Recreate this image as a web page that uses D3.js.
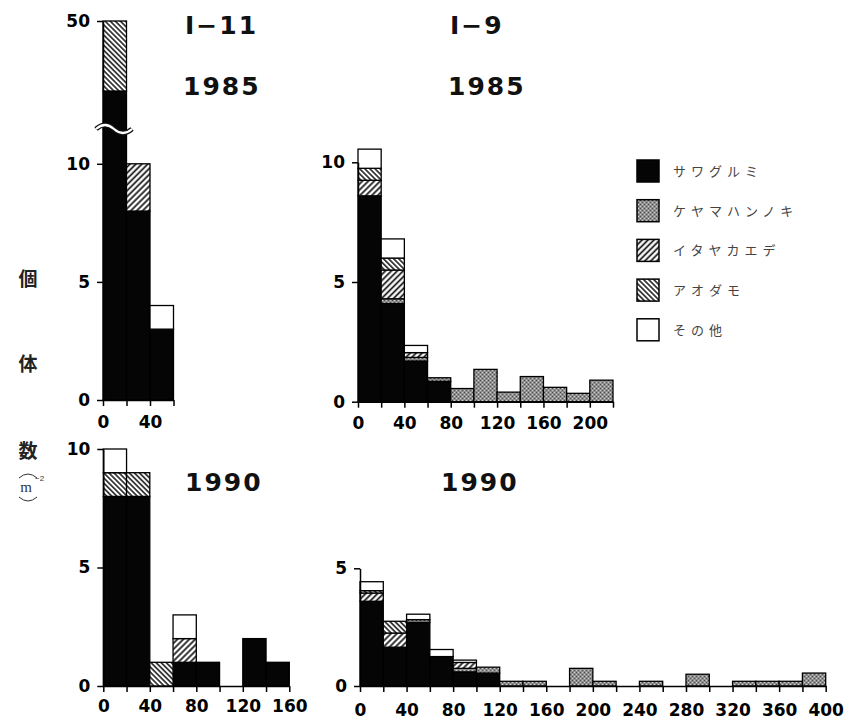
<html>
<script src='https://d3js.org/d3.v7.min.js'></script>
<style>
body {margin: 0; background: white;}
.tick text {font: bold 17px "DejaVu Sans", sans-serif; fill: black;}
.domain, .tick line {stroke: black; stroke-width: 1.5;}
.title {font: bold 25px "DejaVu Sans", sans-serif; letter-spacing: 2px; fill: #111;}
.legend text {font: 400 13px "Noto Sans CJK JP"; fill: #444; letter-spacing: 5px;}
.ylab {font: bold 19px "Noto Sans CJK JP"; fill: #222;}
</style>
<body>
<svg width=845 height=719></svg>
<script>
// species, bottom to top of each stack
var species = ["サワグルミ", "ケヤマハンノキ", "イタヤカエデ", "アオダモ", "その他"];

// I-11 1985, bins of 20 (lower bound)
var bins_i11_1985 = [0, 20, 40];
var i11_1985 = [
  [30, 8, 3],
  [0, 0, 0],
  [0, 2, 0],
  [20, 0, 0],
  [0, 0, 1]
];

// I-9 1985
var bins_i9_1985 = [0, 20, 40, 60, 80, 100, 120, 140, 160, 180, 200];
var i9_1985 = [
  [8.6, 4.1, 1.7, 0.85, 0, 0, 0, 0, 0, 0, 0],
  [0, 0.2, 0.15, 0.15, 0.55, 1.35, 0.4, 1.05, 0.6, 0.35, 0.9],
  [0.65, 1.2, 0.2, 0, 0, 0, 0, 0, 0, 0, 0],
  [0.5, 0.5, 0, 0, 0, 0, 0, 0, 0, 0, 0],
  [0.8, 0.8, 0.3, 0, 0, 0, 0, 0, 0, 0, 0]
];

// I-11 1990
var bins_i11_1990 = [0, 20, 40, 60, 80, 100, 120, 140];
var i11_1990 = [
  [8, 8, 0, 1, 1, 0, 2, 1],
  [0, 0, 0, 0, 0, 0, 0, 0],
  [0, 0, 0, 1, 0, 0, 0, 0],
  [1, 1, 1, 0, 0, 0, 0, 0],
  [1, 0, 0, 1, 0, 0, 0, 0]
];

// I-9 1990
var bins_i9_1990 = [0, 20, 40, 60, 80, 100, 120, 140, 160, 180, 200, 220, 240, 260, 280, 300, 320, 340, 360, 380];
var i9_1990 = [
  [3.6, 1.65, 2.7, 1.25, 0.6, 0.55, 0, 0, 0, 0, 0, 0, 0, 0, 0, 0, 0, 0, 0, 0],
  [0, 0, 0.12, 0, 0.15, 0.25, 0.2, 0.2, 0, 0.75, 0.2, 0, 0.2, 0, 0.5, 0, 0.2, 0.2, 0.2, 0.55],
  [0.35, 0.6, 0, 0, 0.25, 0, 0, 0, 0, 0, 0, 0, 0, 0, 0, 0, 0, 0, 0, 0],
  [0.1, 0.5, 0, 0, 0, 0, 0, 0, 0, 0, 0, 0, 0, 0, 0, 0, 0, 0, 0, 0],
  [0.38, 0, 0.23, 0.3, 0.1, 0, 0, 0, 0, 0, 0, 0, 0, 0, 0, 0, 0, 0, 0, 0]
];

// tick labels
var xLabels_i11_1985 = [0, 40];
var xLabels_i9_1985 = [0, 40, 80, 120, 160, 200];
var xLabels_i11_1990 = [0, 40, 80, 120, 160];
var xLabels_i9_1990 = [0, 40, 80, 120, 160, 200, 240, 280, 320, 360, 400];
var yTicks_i11_1985 = [0, 5, 10, 50];
var yTicks_10 = [0, 5, 10];
var yTicks_5 = [0, 5];

var svg = d3.select("svg");
var defs = svg.append("defs");

// fills
var stip = defs.append("pattern").attr("id", "stip").attr("patternUnits", "userSpaceOnUse")
    .attr("width", 4).attr("height", 4);
stip.append("rect").attr("width", 4).attr("height", 4).attr("fill", "#8e8e8e");
stip.append("rect").attr("x", 0).attr("y", 0).attr("width", 1).attr("height", 1).attr("fill", "#4a4a4a");
stip.append("rect").attr("x", 2).attr("y", 2).attr("width", 1).attr("height", 1).attr("fill", "#555");
stip.append("rect").attr("x", 2).attr("y", 0).attr("width", 1).attr("height", 1).attr("fill", "#d0d0d0");
stip.append("rect").attr("x", 0).attr("y", 2).attr("width", 1).attr("height", 1).attr("fill", "#c8c8c8");

function hatch(id, angle, gap, w) {
  var p = defs.append("pattern").attr("id", id).attr("patternUnits", "userSpaceOnUse")
      .attr("width", gap).attr("height", gap).attr("patternTransform", "rotate(" + angle + ")");
  p.append("rect").attr("width", gap).attr("height", gap).attr("fill", "white");
  p.append("line").attr("x1", gap / 2).attr("x2", gap / 2).attr("y1", 0).attr("y2", gap)
      .attr("stroke", "#111").attr("stroke-width", w);
}
hatch("itaya", 45, 4.2, 1.7);
hatch("aodamo", -45, 3.6, 1.5);

var fills = ["#050505", "url(#stip)", "url(#itaya)", "url(#aodamo)", "white"];

function panel(bins, rows, x, y, xLabels, yTicks, xMax, pad) {
  var g = svg.append("g");
  var table = bins.map(function(b, i) {
    var o = {bin: b};
    species.forEach(function(s, k) { o[k] = rows[k][i]; });
    return o;
  });
  var stack = d3.stack().keys(d3.range(species.length))(table);

  g.selectAll(".layer").data(stack).enter()
    .append("g")
    .attr("fill", function(d, k) { return fills[k]; })
    .selectAll("rect")
    .data(function(d) { return d.filter(function(s) { return s[1] - s[0] > 0; }); })
    .enter().append("rect")
    .attr("x", function(d) { return x(d.data.bin); })
    .attr("width", function(d) { return x(d.data.bin + 20) - x(d.data.bin); })
    .attr("y", function(d) { return y(d[1]); })
    .attr("height", function(d) { return y(d[0]) - y(d[1]); })
    .attr("stroke", "black").attr("stroke-width", 1.3);

  g.append("g")
    .attr("transform", "translate(0," + y(0) + ")")
    .call(d3.axisBottom(x).tickValues(d3.range(0, xMax + 1, 20)).tickSize(6).tickSizeOuter(0).tickPadding(pad)
      .tickFormat(function(v) { return xLabels.indexOf(v) >= 0 ? v : ""; }));

  g.append("g")
    .attr("transform", "translate(" + x(0) + ",0)")
    .call(d3.axisLeft(y).tickValues(yTicks).tickSize(6).tickSizeOuter(0).tickPadding(7)
      .tickFormat(d3.format("d")));
  return g;
}

// I-11 1985 with a broken y axis
var xA = d3.scaleLinear().domain([0, 60]).range([103, 173.5]);
var yA = d3.scaleLinear().domain([0, 11.6, 20, 50]).range([400, 126, 126, 21]);
panel(bins_i11_1985, i11_1985, xA, yA, xLabels_i11_1985, yTicks_i11_1985, 60, 10);
var brk = "M96,129 q9,-8 18,0 t18,0";
svg.append("path").attr("d", brk).attr("fill", "none").attr("stroke", "#111").attr("stroke-width", 5);
svg.append("path").attr("d", brk).attr("fill", "none").attr("stroke", "white").attr("stroke-width", 2.2);

var xB = d3.scaleLinear().domain([0, 220]).range([358, 613]);
var yB = d3.scaleLinear().domain([0, 10]).range([401.7, 162.3]);
panel(bins_i9_1985, i9_1985, xB, yB, xLabels_i9_1985, yTicks_10, 220, 9);

var xC = d3.scaleLinear().domain([0, 160]).range([103.3, 289.3]);
var yC = d3.scaleLinear().domain([0, 10]).range([686, 449]);
panel(bins_i11_1990, i11_1990, xC, yC, xLabels_i11_1990, yTicks_10, 160, 8);

var xD = d3.scaleLinear().domain([0, 400]).range([360, 825.7]);
var yD = d3.scaleLinear().domain([0, 5]).range([686, 568.3]);
panel(bins_i9_1990, i9_1990, xD, yD, xLabels_i9_1990, yTicks_5, 400, 12);

// titles
[["I−11", 185, 34], ["1985", 183, 95], ["I−9", 450, 34], ["1985", 448, 95],
 ["1990", 185, 491], ["1990", 441, 491]].forEach(function(t) {
  svg.append("text").attr("class", "title").attr("x", t[1]).attr("y", t[2]).text(t[0]);
});

// legend
var leg = svg.append("g").attr("class", "legend");
species.forEach(function(s, k) {
  var top = 160 + k * 39.7;
  leg.append("rect").attr("x", 637).attr("y", top).attr("width", 22).attr("height", 22)
    .attr("fill", fills[k]).attr("stroke", "black").attr("stroke-width", 1.5);
  leg.append("text").attr("x", 673).attr("y", top + 16).text(s);
});

// y label
[["個", 279], ["体", 364], ["数", 451]].forEach(function(t) {
  svg.append("text").attr("class", "ylab").attr("x", 28).attr("y", t[1] + 7)
    .attr("text-anchor", "middle").text(t[0]);
});
svg.append("path").attr("d", "M19,478 Q28,470 37,478").attr("fill", "none").attr("stroke", "#333").attr("stroke-width", 1);
svg.append("path").attr("d", "M19,497 Q28,505 37,497").attr("fill", "none").attr("stroke", "#333").attr("stroke-width", 1);
svg.append("text").attr("x", 26).attr("y", 492).attr("text-anchor", "middle")
  .style("font", "15px 'Liberation Serif', serif").attr("fill", "#333").text("m");
svg.append("text").attr("x", 35).attr("y", 481)
  .style("font", "8px 'Liberation Sans', sans-serif").attr("fill", "#333").text("−2");
</script>
</body>
</html>
